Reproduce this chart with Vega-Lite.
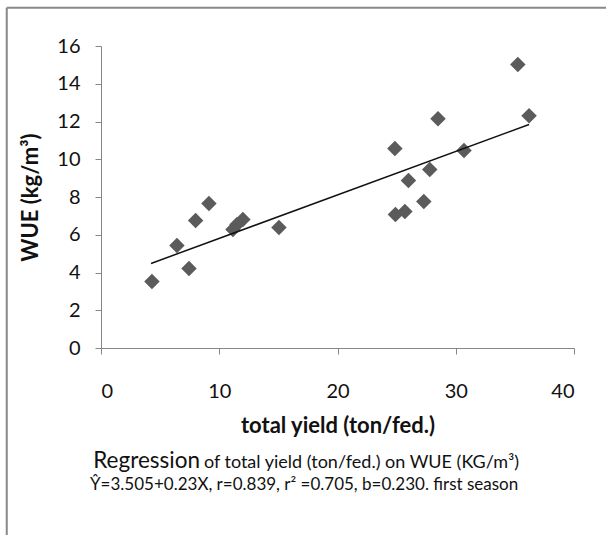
{
  "$schema": "https://vega.github.io/schema/vega-lite/v6.json",
  "width": 473,
  "height": 302,
  "autosize": "none",
  "padding": {"left": 101, "top": 46, "right": 32, "bottom": 187},
  "background": "white",
  "config": {
    "view": {"stroke": null},
    "font": "Lato",
    "axis": {
      "grid": false,
      "domainColor": "#868686",
      "tickColor": "#868686",
      "domainWidth": 1,
      "tickSize": 6,
      "labelFont": "Lato",
      "labelFontSize": 20,
      "labelColor": "#111",
      "titleFont": "Lato",
      "titleFontSize": 22,
      "titleFontWeight": "bold",
      "titleColor": "#111"
    },
    "axisX": {"tickCount": 4, "labelPadding": 27, "titlePadding": 14},
    "axisY": {"tickCount": 8, "labelPadding": 15, "titlePadding": 14}
  },
  "datasets": {
    "obs": [
      {"yield": 4.31, "wue": 3.52},
      {"yield": 6.42, "wue": 5.43},
      {"yield": 7.44, "wue": 4.21},
      {"yield": 8.0, "wue": 6.75},
      {"yield": 9.13, "wue": 7.66},
      {"yield": 11.16, "wue": 6.28},
      {"yield": 11.5, "wue": 6.54},
      {"yield": 12.0, "wue": 6.81},
      {"yield": 15.05, "wue": 6.38},
      {"yield": 24.85, "wue": 10.57},
      {"yield": 24.9, "wue": 7.07},
      {"yield": 25.7, "wue": 7.23},
      {"yield": 26.0, "wue": 8.87},
      {"yield": 27.3, "wue": 7.76},
      {"yield": 27.8, "wue": 9.46},
      {"yield": 28.5, "wue": 12.14},
      {"yield": 30.7, "wue": 10.46},
      {"yield": 35.25, "wue": 15.02},
      {"yield": 36.2, "wue": 12.3}
    ],
    "fit": [
      {"yield": 4.23, "wue": 4.48},
      {"yield": 36.2, "wue": 11.84}
    ],
    "one": [{}]
  },
  "layer": [
    {
      "data": {"name": "one"},
      "mark": {"type": "rule", "color": "#888888", "strokeWidth": 2, "clip": false},
      "encoding": {
        "x": {"datum": -7.97, "type": "quantitative", "scale": {"domain": [0, 40]}, "title": "total yield (ton/fed.)"},
        "y": {"datum": 18.02, "type": "quantitative", "scale": {"domain": [0, 16]}, "title": "WUE (kg/m³)"},
        "y2": {"datum": -12}
      }
    },
    {
      "data": {"name": "one"},
      "mark": {"type": "rule", "color": "#888888", "strokeWidth": 2, "clip": false},
      "encoding": {
        "x": {"datum": -7.97, "type": "quantitative", "scale": {"domain": [0, 40]}, "title": "total yield (ton/fed.)"},
        "x2": {"datum": 46},
        "y": {"datum": 18.02, "type": "quantitative", "scale": {"domain": [0, 16]}, "title": "WUE (kg/m³)"}
      }
    },
    {
      "data": {"name": "obs"},
      "mark": {"type": "point", "shape": "diamond", "filled": true, "color": "#5b5b5b", "opacity": 1, "size": 240},
      "encoding": {
        "x": {"field": "yield", "type": "quantitative", "scale": {"domain": [0, 40]}, "title": "total yield (ton/fed.)"},
        "y": {"field": "wue", "type": "quantitative", "scale": {"domain": [0, 16]}, "title": "WUE (kg/m³)"}
      }
    },
    {
      "data": {"name": "fit"},
      "mark": {"type": "line", "color": "#111111", "strokeWidth": 1.5},
      "encoding": {
        "x": {"field": "yield", "type": "quantitative", "scale": {"domain": [0, 40]}, "title": "total yield (ton/fed.)"},
        "y": {"field": "wue", "type": "quantitative", "scale": {"domain": [0, 16]}, "title": "WUE (kg/m³)"}
      }
    },
    {
      "data": {"name": "one"},
      "mark": {"type": "text", "text": "Regression", "align": "right", "baseline": "alphabetic", "fontSize": 22.5, "color": "#111"},
      "encoding": {
        "x": {"datum": 8.37, "type": "quantitative", "scale": {"domain": [0, 40]}, "title": "total yield (ton/fed.)"},
        "y": {"datum": -6.38, "type": "quantitative", "scale": {"domain": [0, 16]}, "title": "WUE (kg/m³)"}
      }
    },
    {
      "data": {"name": "one"},
      "mark": {"type": "text", "text": "of total yield (ton/fed.)  on WUE (KG/m³)", "align": "left", "baseline": "alphabetic", "fontSize": 18, "color": "#111"},
      "encoding": {
        "x": {"datum": 8.7, "type": "quantitative", "scale": {"domain": [0, 40]}, "title": "total yield (ton/fed.)"},
        "y": {"datum": -6.38, "type": "quantitative", "scale": {"domain": [0, 16]}, "title": "WUE (kg/m³)"}
      }
    },
    {
      "data": {"name": "one"},
      "mark": {"type": "text", "text": "Ŷ=3.505+0.23X, r=0.839, r² =0.705, b=0.230. first season", "align": "left", "baseline": "alphabetic", "fontSize": 17, "color": "#111"},
      "encoding": {
        "x": {"datum": -0.93, "type": "quantitative", "scale": {"domain": [0, 40]}, "title": "total yield (ton/fed.)"},
        "y": {"datum": -7.5, "type": "quantitative", "scale": {"domain": [0, 16]}, "title": "WUE (kg/m³)"}
      }
    }
  ]
}
